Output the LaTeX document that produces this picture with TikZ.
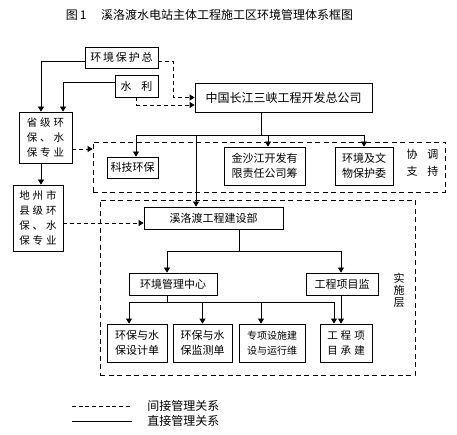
\documentclass[tikz,border=0pt]{standalone}
\usepackage{fontspec}
\setmainfont{Noto Sans CJK SC}
\usetikzlibrary{positioning}
\usetikzlibrary{arrows.meta}
\newcommand\chgap{\hspace{3pt}}

\begin{document}
\begin{tikzpicture}[x=1pt,y=-1pt,>={Triangle[width=6pt,length=5pt]},
                    line width=0.8pt,
                    box/.style={draw,inner sep=0pt,align=center,font=\fontsize{11}{15}\selectfont},
                    region/.style={draw,inner sep=0pt,dash pattern=on 5pt off 3.5pt},
                    link/.style={->},
                    dlink/.style={->,dash pattern=on 4pt off 3pt},
                    lab/.style={align=center,font=\fontsize{11}{15}\selectfont}]
      \useasboundingbox (0,0) rectangle (457,435);

      \node[font=\fontsize{12}{14}\selectfont] (title) at (209.5,15) {图\,1\hspace{1.2em}溪洛渡水电站主体工程施工区环境管理体系框图};

      % dashed regions
      \node[region, minimum width=352pt, minimum height=50pt] (xt) at (269,167) {};
      \node[region, minimum width=315pt, minimum height=175pt] (ss) at (257.5,287.5) {};
      \node[lab] (xtl) at (422.5,163) {协\hspace{0.9em}调\\[2pt]支\hspace{0.9em}持};
      \node[lab, font=\fontsize{11}{12}\selectfont] (ssl) at (399,290) {实\\施\\层};

      % upper level
      \node[box, minimum width=73pt, minimum height=21pt] (hbz) at (121.5,57.5) {环\,境\,保\,护\,总};
      \node[box, minimum width=43pt, minimum height=22pt] (sl) at (136.5,86) {水\hspace{0.9em}利};
      \node[box, minimum width=177pt, minimum height=29pt, font=\fontsize{12}{15}\selectfont] (sx) at (283.5,97.5) {中国长江三峡工程开发总公司};
      \node[box, minimum width=53pt, minimum height=51pt, font=\fontsize{10.5}{15}\selectfont] (sj) at (45.5,137.5)
            {省\chgap 级\chgap 环\\保\chgap 、\chgap 水\\保\chgap 专\chgap 业};
      \node[box, minimum width=50pt, minimum height=66pt, font=\fontsize{10.5}{15}\selectfont] (dz) at (38,218)
            {地\chgap 州\chgap 市\\县\chgap 级\chgap 环\\保\chgap 、\chgap 水\\保\chgap 专\chgap 业};

      % coordination
      \node[box, minimum width=51pt, minimum height=21pt] (kj) at (132.5,167.5) {科技环保};
      \node[box, minimum width=81pt, minimum height=38pt] (js) at (264.5,166) {金沙江开发有\\限责任公司筹};
      \node[box, minimum width=58pt, minimum height=38pt] (hj) at (364,166) {环境及文\\物保护委};

      % implementation
      \node[box, minimum width=139pt, minimum height=22pt] (xld) at (213.5,218) {溪洛渡工程建设部};
      \node[box, minimum width=88pt, minimum height=22pt] (hgz) at (173,284) {环境管理中心};
      \node[box, minimum width=72pt, minimum height=22pt] (gcj) at (342,284) {工程项目监};
      \node[box, minimum width=60pt, minimum height=38pt] (b1) at (137,343) {环保与水\\保设计单};
      \node[box, minimum width=59pt, minimum height=38pt] (b2) at (202.5,343) {环保与水\\保监测单};
      \node[box, minimum width=66pt, minimum height=38pt, font=\fontsize{10}{15}\selectfont] (b3) at (272,343) {专项设施建\\设与运行维};
      \node[box, minimum width=52pt, minimum height=38pt, font=\fontsize{10.5}{15}\selectfont] (b4) at (346,343)
            {工\chgap 程\chgap 项\\目\chgap 承\chgap 建};

      \coordinate (ja) at (261,135);
      \coordinate (jb) at (239,251);
      \coordinate (jc) at (167,302);
      \coordinate (sjr) at ([yshift=-11.5pt]sj.east);
      \coordinate (dzr) at ([yshift=-5pt]dz.east);

      % direct
      \draw[link] ([yshift=-3.5pt]hbz.west) -| ([xshift=-4.5pt]sj.north);
      \draw[link] ([yshift=3.3pt]sl.west) -| ([xshift=17.5pt]sj.north);
      \draw[link] ([xshift=-4.5pt]sj.south) -- ([xshift=3pt]dz.north);

      \draw (sx.south -| ja) -- (ja);
      \draw ([xshift=3.5pt]kj.north |- ja) -- (hj.north |- ja);
      \draw[link] ([xshift=3.5pt]kj.north |- ja) -- ([xshift=3.5pt]kj.north);
      \draw[link] ([xshift=3.5pt]js.north |- ja) -- ([xshift=3.5pt]js.north);
      \draw[link] (hj.north |- ja) -- (hj.north);
      \draw[link] ([xshift=-17.5pt]xld.north |- ja) -- ([xshift=-17.5pt]xld.north);

      \draw (xld.south -| jb) -- (jb);
      \draw ([xshift=-6pt]hgz.north |- jb) -- ([xshift=-1pt]gcj.north |- jb);
      \draw[link] ([xshift=-6pt]hgz.north |- jb) -- ([xshift=-6pt]hgz.north);
      \draw[link] ([xshift=-1pt]gcj.north |- jb) -- ([xshift=-1pt]gcj.north);

      \draw (hgz.south -| jc) -- (jc);
      \draw ([xshift=-8pt]b1.north |- jc) -- ([xshift=-12pt]b4.north |- jc);
      \draw[link] ([xshift=-8pt]b1.north |- jc) -- ([xshift=-8pt]b1.north);
      \draw[link] (b2.north |- jc) -- (b2.north);
      \draw[link] ([xshift=-11pt]b3.north |- jc) -- ([xshift=-11pt]b3.north);
      \draw[link] ([xshift=-12pt]b4.north |- jc) -- ([xshift=-12pt]b4.north);
      \draw[link] ([xshift=-1pt]gcj.south) -- ([xshift=-5pt]b4.north);

      % indirect
      \draw[dlink] ([yshift=-3.5pt]hbz.east) -- ++(15,0) |- (sx.west);
      \draw[dlink] (sl.south) |- ([yshift=-7.5pt]sx.west);
      \draw[dlink] (sjr) -- (sjr -| xt.west);
      \draw[dlink] (dzr) -- (dzr -| xld.west);

      % legend
      \coordinate (la) at (72,406);
      \coordinate (lb) at (132,406);
      \coordinate (lc) at (72,421);
      \coordinate (ld) at (132,421);
      \draw[dash pattern=on 4pt off 2.7pt] (la) -- (lb);
      \draw (lc) -- (ld);
      \node[right=15pt of lb, inner sep=0pt, font=\fontsize{12}{14}\selectfont] (ind) {间接管理关系};
      \node[right=15pt of ld, inner sep=0pt, font=\fontsize{12}{14}\selectfont] (dir) {直接管理关系};
\end{tikzpicture}
\end{document}
